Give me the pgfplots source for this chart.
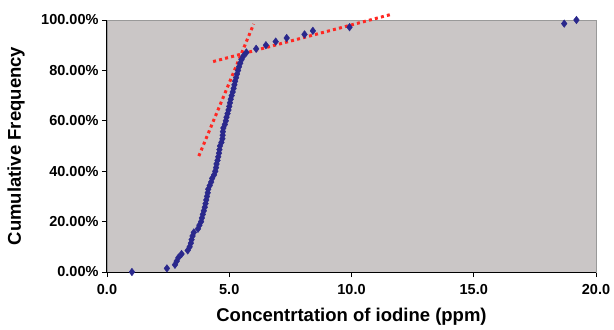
\documentclass[border=0pt]{standalone}
\usepackage{fontspec}
\setmainfont{Liberation Sans}
\usepackage{pgfplots}
\pgfplotsset{compat=1.18}
\definecolor{bggray}{RGB}{202,198,198}
\definecolor{navy}{RGB}{42,40,140}
\definecolor{dotred}{RGB}{255,40,35}
\begin{document}
\begin{tikzpicture}
\begin{axis}[
  scale only axis,
  width=489pt, height=252pt,
  xmin=0, xmax=20, ymin=0, ymax=100,
  clip=false,
  axis background/.style={fill=bggray},
  axis line style={draw=gray!80},
  xtick={0,5,10,15,20},
  ytick={0,20,40,60,80,100},
  tick align=outside,
  major tick length=5pt,
  tick style={black, line width=0.8pt},
  xtick pos=bottom, ytick pos=left,
  /pgf/number format/assume math mode=true,
  xticklabel={\pgfmathprintnumber[fixed,fixed zerofill,precision=1]{\tick}},
  yticklabel={\pgfmathprintnumber[fixed,fixed zerofill,precision=2]{\tick}\%},
  ticklabel style={font=\fontsize{14.5}{16}\selectfont\bfseries},
  xticklabel style={yshift=-4pt},
  xlabel={Concentrtation of iodine (ppm)},
  ylabel={Cumulative Frequency},
  label style={font=\fontsize{18.5}{20}\selectfont\bfseries},
  xlabel style={at={(axis description cs:0.5,-0.198)}, anchor=base},
  ylabel style={at={(axis description cs:-0.186,0.5)}, anchor=center},
]
\draw[black, line width=1pt] (rel axis cs:0,1) -- (rel axis cs:0,0) -- (rel axis cs:1,0);
\addplot[only marks, mark=diamond*, mark size=3.8pt, color=navy] coordinates {
(1.02,0) (2.45,1.43) (2.78,2.86) (2.85,4.29) (2.92,5.71) (3.05,7.14)
(3.30,8.57) (3.38,10.0) (3.43,11.43) (3.46,12.86) (3.50,14.29) (3.55,15.71)
(3.72,17.14) (3.78,18.57) (3.85,20.0) (3.88,21.43) (3.92,22.86) (3.96,24.29)
(4.00,25.71) (4.03,27.14) (4.06,28.57) (4.09,30.0) (4.12,31.43) (4.14,32.86)
(4.20,34.29) (4.26,35.71) (4.30,37.14) (4.38,38.57) (4.43,40.0) (4.46,41.43)
(4.48,42.86) (4.52,44.29) (4.55,45.71) (4.58,47.14) (4.60,48.57) (4.62,50.0)
(4.68,51.43) (4.72,52.86) (4.73,54.29) (4.74,55.71) (4.76,57.14) (4.82,58.57)
(4.86,60.0) (4.89,61.43) (4.93,62.86) (4.97,64.29) (5.00,65.71) (5.03,67.14)
(5.06,68.57) (5.10,70.0) (5.14,71.43) (5.18,72.86) (5.21,74.29) (5.24,75.71)
(5.28,77.14) (5.32,78.57) (5.36,80.0) (5.40,81.43) (5.45,82.86) (5.50,84.29)
(5.58,85.71) (5.70,87.14) (6.10,88.57) (6.50,90.0) (6.90,91.43) (7.35,92.86)
(8.08,94.29) (8.42,95.71) (9.92,97.14) (18.70,98.57) (19.20,100.0)
};
\addplot[dotred, line width=3pt, dash pattern=on 3pt off 3.2pt] coordinates {(3.755,46.0) (6.0,98.4)};
\addplot[dotred, line width=3pt, dash pattern=on 3pt off 3.2pt] coordinates {(4.34,83.5) (11.69,102.4)};
\end{axis}
\path[use as bounding box] (-107pt,-56pt) rectangle (507pt,272pt);
\end{tikzpicture}
\end{document}
